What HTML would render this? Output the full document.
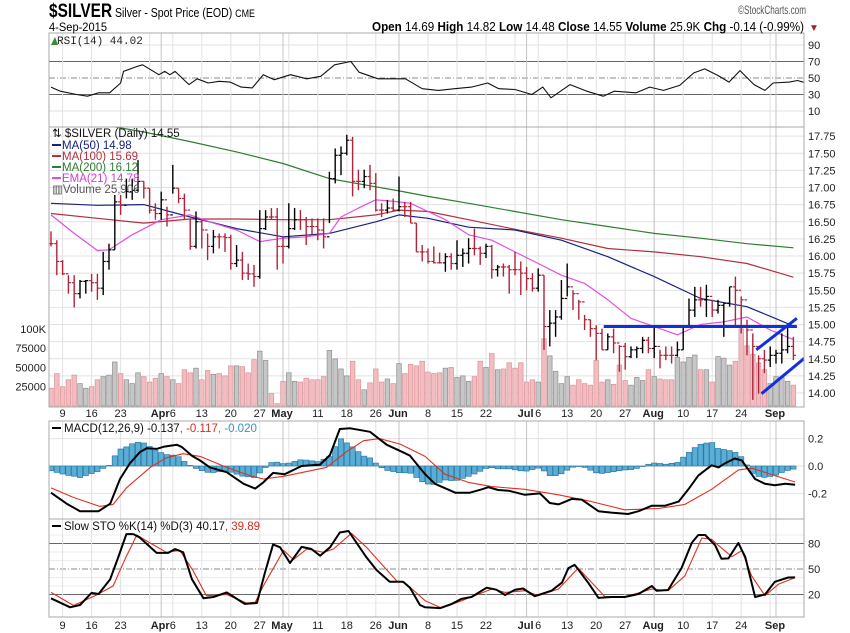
<!DOCTYPE html>
<html><head><meta charset="utf-8"><title>$SILVER chart</title>
<style>
html,body{margin:0;padding:0;background:#fff;}
svg{display:block;font-family:"Liberation Sans",sans-serif;}
.ax{font-size:11px;fill:#222;}
.nar{font-family:"Liberation Sans Narrow","Liberation Sans",sans-serif;}
</style></head>
<body>
<svg id="chart" width="850" height="633" viewBox="0 0 850 633" xmlns="http://www.w3.org/2000/svg">
<defs>
<clipPath id="cMain"><rect x="49" y="127" width="755" height="280"/></clipPath>
<clipPath id="cRsi"><rect x="49" y="33" width="755" height="94"/></clipPath>
<clipPath id="cMacd"><rect x="49" y="421" width="755" height="98"/></clipPath>
<clipPath id="cSto"><rect x="49" y="519" width="755" height="98"/></clipPath>
</defs>
<rect x="0" y="0" width="850" height="633" fill="#fff"/>
<g id="grid"></g>
<g id="marks"></g>
<g>
<text x="49" y="17" textLength="206" lengthAdjust="spacingAndGlyphs" class="nar" font-size="13" fill="#000"><tspan font-size="19" font-weight="bold">$SILVER</tspan> Silver - Spot Price (EOD) <tspan font-size="11">CME</tspan></text>
<text x="49" y="31" textLength="58" lengthAdjust="spacingAndGlyphs" class="nar" font-size="12" fill="#000">4-Sep-2015</text>
<text x="806" y="14" text-anchor="end" textLength="68" lengthAdjust="spacingAndGlyphs" class="nar" font-size="12" fill="#555">©StockCharts.com</text>
<text x="372" y="31" textLength="432" lengthAdjust="spacingAndGlyphs" class="nar" font-size="12.5" fill="#000"><tspan font-weight="bold">Open</tspan> 14.69 <tspan font-weight="bold">High</tspan> 14.82 <tspan font-weight="bold">Low</tspan> 14.48 <tspan font-weight="bold">Close</tspan> 14.55 <tspan font-weight="bold">Volume</tspan> 25.9K <tspan font-weight="bold">Chg</tspan> -0.14 (-0.99%)</text>
<text x="809" y="31" font-size="10" fill="#a02030">▼</text>
</g>
<g font-size="11.5">
<path d="M51 45 L55 37 L58 45 Z" fill="#3a8a3a"/>
<text x="57" y="44" fill="#222" font-family="Liberation Mono,monospace" font-size="11">RSI(14) 44.02</text>
<text x="52" y="137" fill="#111">⇅ $SILVER (Daily) 14.55</text>
<line x1="52" y1="145" x2="61" y2="145" stroke="#1a237e" stroke-width="2"/>
<text x="62" y="149" fill="#1a237e">MA(50) 14.98</text>
<line x1="52" y1="156" x2="61" y2="156" stroke="#b03040" stroke-width="2"/>
<text x="62" y="160" fill="#b03040">MA(100) 15.69</text>
<line x1="52" y1="167" x2="61" y2="167" stroke="#2e7d32" stroke-width="2"/>
<text x="62" y="171" fill="#2e7d32">MA(200) 16.12</text>
<line x1="52" y1="178" x2="61" y2="178" stroke="#e050e0" stroke-width="2"/>
<text x="62" y="182" fill="#d040d0">EMA(21) 14.78</text>
<text x="52" y="193" fill="#555">▥Volume 25,906</text>
<line x1="52" y1="428" x2="61" y2="428" stroke="#000" stroke-width="2"/>
<text x="64" y="432" fill="#111">MACD(12,26,9) -0.137<tspan fill="#d03020">, -0.117</tspan><tspan fill="#3a90c0">, -0.020</tspan></text>
<line x1="52" y1="526" x2="61" y2="526" stroke="#000" stroke-width="2"/>
<text x="64" y="530" fill="#111">Slow STO %K(14) %D(3) 40.17<tspan fill="#d03020">, 39.89</tspan></text>
</g>
</svg>
<script>
// ---- price data (bar index 0 = 5-Mar-2015) ----
const highs = [16.36,16.23,15.94,15.72,15.72,15.65,15.65,15.74,15.74,16.06,
16.18,16.89,16.89,17.13,17.13,17.40,17.09,16.99,16.77,16.94,
16.72,17.33,16.99,16.91,16.55,16.65,16.53,16.33,16.38,16.33,
16.33,16.31,16.16,16.06,15.89,15.87,16.67,16.67,16.70,16.70,
16.28,16.77,16.70,16.67,16.57,16.55,16.55,16.55,17.23,17.57,
17.60,17.77,17.74,17.26,17.26,17.33,17.21,16.77,16.82,16.84,
17.16,16.79,16.79,16.48,16.16,16.11,16.14,16.05,16.04,16.04,
16.23,16.11,16.26,16.40,16.14,16.18,16.16,15.87,15.89,15.87,
16.06,15.92,15.84,15.75,15.82,15.72,15.21,15.21,15.65,15.89,
15.50,15.36,15.14,15.07,14.99,14.94,14.87,14.94,14.70,14.73,
14.68,14.68,14.82,14.82,14.97,14.63,14.68,14.68,14.75,14.99,
15.38,15.55,15.55,15.58,15.36,15.36,15.31,15.55,15.70,15.41,
15.07,14.87,14.55,14.63,14.68,14.63,14.87,14.97,14.82];
const lows = [16.14,15.72,15.72,15.45,15.25,15.38,15.45,15.48,15.36,15.43,
15.80,16.09,16.60,16.84,16.82,16.94,16.84,16.62,16.53,16.53,
16.43,16.91,16.77,16.53,16.09,16.11,16.11,15.94,16.04,16.11,
16.06,15.80,15.84,15.65,15.65,15.55,15.67,16.38,16.53,15.80,
15.89,16.11,16.38,16.38,16.16,16.31,16.23,16.11,16.48,17.06,
17.18,17.47,16.87,16.96,16.99,16.96,16.65,16.57,16.62,16.65,
16.65,16.57,16.48,16.06,15.92,15.89,15.89,15.89,15.77,15.80,
15.80,15.84,15.89,16.01,15.87,15.97,15.67,15.70,15.70,15.45,
15.72,15.43,15.50,15.48,15.48,14.63,14.68,14.82,15.07,15.41,
15.21,15.07,14.92,14.82,14.48,14.63,14.63,14.58,14.31,14.34,
14.51,14.51,14.58,14.58,14.51,14.36,14.48,14.43,14.53,14.63,
14.97,15.11,15.26,15.11,15.11,15.16,14.82,15.26,14.97,14.87,
14.55,13.90,13.99,14.29,14.38,14.43,14.43,14.58,14.48];
const closes = [16.18,15.92,15.74,15.61,15.45,15.63,15.64,15.61,15.53,15.92,
16.09,16.79,16.74,16.94,16.96,17.09,16.99,16.67,16.62,16.82,
16.60,16.99,16.84,16.67,16.14,16.50,16.38,16.14,16.28,16.28,
16.27,15.89,15.94,15.75,15.74,15.70,16.40,16.57,16.57,16.14,
16.14,16.40,16.53,16.53,16.43,16.43,16.38,16.28,17.13,17.47,
17.50,17.69,17.09,17.09,17.16,17.06,16.67,16.67,16.70,16.67,
16.72,16.72,16.48,16.06,16.06,15.92,15.90,15.90,15.99,15.89,
16.01,16.04,16.11,16.11,16.04,16.14,15.80,15.84,15.84,15.80,
15.80,15.75,15.67,15.53,15.72,14.97,15.02,15.11,15.38,15.55,
15.45,15.33,15.07,14.94,14.87,14.63,14.82,14.73,14.68,14.53,
14.63,14.65,14.77,14.65,14.68,14.55,14.55,14.55,14.63,14.97,
15.21,15.36,15.36,15.41,15.21,15.28,15.31,15.55,15.50,15.36,
14.92,14.68,14.50,14.48,14.55,14.58,14.63,14.68,14.55];
const volumesK = [23,42,25,34,40,29,23,25,34,38,
40,57,42,34,29,43,38,31,36,42,
38,34,29,47,43,49,34,46,41,42,
39,52,52,51,43,60,71,59,16,3,
32,43,32,31,36,34,34,38,72,61,
48,39,58,34,21,30,48,31,35,29,
55,42,54,52,58,44,42,43,49,50,
37,39,32,38,58,50,68,47,48,56,
49,56,31,34,31,87,65,45,29,38,
27,34,29,27,59,31,34,28,53,33,
27,37,33,47,38,35,34,34,63,57,
63,66,47,47,31,64,62,53,58,100,
78,67,56,47,29,38,37,32,27];
// ---- moving averages (sampled at bar indices) ----
const maIdx = [0,8,16,24,32,40,48,56,60,65,72,80,88,96,104,112,120,128];
const ma50 = [16.77,16.74,16.75,16.57,16.40,16.28,16.33,16.50,16.60,16.55,16.42,16.38,16.23,15.99,15.70,15.38,15.26,14.98];
const ma100 = [16.62,16.55,16.48,16.54,16.54,16.53,16.53,16.60,16.67,16.65,16.53,16.39,16.26,16.11,16.06,15.99,15.89,15.69];
const ma200 = [18.0,17.93,17.81,17.67,17.52,17.35,17.13,17.01,16.95,16.87,16.77,16.65,16.53,16.43,16.33,16.26,16.18,16.12];
const emaIdx = [0,4,8,10,14,19,24,28,32,36,40,44,48,50,53,56,60,62,65,68,72,76,80,84,88,92,96,100,104,108,112,116,120,124,128];
const ema21 = [16.60,16.33,16.08,16.09,16.31,16.53,16.60,16.48,16.38,16.21,16.26,16.28,16.33,16.57,16.70,16.82,16.79,16.77,16.65,16.53,16.31,16.23,16.06,15.89,15.72,15.60,15.36,15.09,14.97,14.85,15.00,15.04,15.11,14.92,14.78];
// ---- RSI ----
const rsiIdx = [0,1.6,4.4,6.3,8.2,10.1,12,12.5,14.8,15.8,18.6,19.6,20.5,21.4,23.8,25.2,27.1,29,30.9,32.8,34.7,36.6,38.5,41.3,44.1,46.5,48.9,51.7,53.1,56.4,61.1,64,66.8,69.6,72.5,75.3,77.2,80,82.9,84.8,86.2,89.5,92.4,95.2,97.1,100.9,103.2,105.6,108.4,110.8,112.7,115,116.9,118.8,121.2,123.1,124.5,127.3,128.7,130.2];
const rsiVal = [39,34,30,28,32,32,44,58,64,66,54,58,54,58,42,49,44,46,45,39,38,54,48,54,49,52,66,70,57,49,49,37,35,37,39,44,37,36,30,39,26,42,34,28,34,32,39,35,41,56,61,53,45,59,42,35,44,45,47,44.02];
// ---- MACD ----
const macdIdx = [0,2.7,5,8.2,10.2,11.9,13.6,15.3,16.5,18.2,19.4,21.7,22.5,24.3,25.7,27.4,30.3,33.2,35.2,36.6,38.3,40.3,43.2,46.4,48.1,49.8,51.6,55,57.9,60.7,61.9,64.5,66.2,69.7,72.2,74.3,75.4,77.1,78.9,81.7,84.3,86,87.5,89.8,91.5,94.4,96.6,99.5,101.3,103.6,105.9,108.2,109.9,111.6,113.9,115.1,116.2,117.9,119.1,121.4,123.1,124.8,126.6,128.3];
const macdVal = [-0.195,-0.275,-0.33,-0.33,-0.275,-0.095,0.02,0.10,0.13,0.125,0.14,0.155,0.14,0.075,0.04,-0.01,-0.045,-0.13,-0.165,-0.12,-0.05,-0.06,0,0.01,0.08,0.27,0.275,0.25,0.155,0.10,0.075,-0.06,-0.13,-0.195,-0.195,-0.17,-0.155,-0.175,-0.18,-0.21,-0.2,-0.27,-0.28,-0.24,-0.245,-0.33,-0.34,-0.35,-0.33,-0.29,-0.29,-0.26,-0.17,-0.07,0.005,-0.01,0.02,0.055,0.04,-0.095,-0.13,-0.14,-0.13,-0.137];
const sigIdx = [0,3.9,8.4,10.7,13,17.1,19.9,22.8,25.7,30.3,34.3,36.6,40.1,42.9,47.5,51,53.9,56.7,60.2,64.5,67.9,72,76,81.7,87.5,93.2,98.9,104.7,109.3,113.9,118.5,120.8,124.8,128.3];
const sigVal = [-0.16,-0.23,-0.295,-0.28,-0.16,-0.01,0.06,0.09,0.07,-0.01,-0.07,-0.095,-0.075,-0.05,-0.01,0.105,0.185,0.20,0.16,0.07,-0.06,-0.12,-0.15,-0.17,-0.21,-0.26,-0.32,-0.31,-0.28,-0.17,-0.03,-0.015,-0.07,-0.117];
// ---- Slow Stochastic ----
const kIdx = [0,3.3,5,7,8.2,10.2,11.6,13,14.2,15.3,18.2,20.2,21.4,22.8,24.3,26.3,28,30.3,33.4,35.5,36.9,38.3,39.5,41.2,43.2,44.9,46.4,48.1,49.8,51.3,53,54.4,56.1,58.4,60.7,61.9,63.6,64.5,67.1,69.1,70.8,72.5,75.1,76.8,78.3,80,81.4,83.4,86.3,88.1,89.2,90.3,92.6,94.4,96.6,98.9,101.3,103.6,104.4,106.4,108.7,110.5,111.6,112.8,114.5,115.6,116.8,118.5,119.7,121.4,123.1,124.8,127.1,128.3];
const kVal = [15.5,5,7.6,22,20.6,38,64,91,91,87,69,69,73.5,69.6,38,15.5,17,22.5,9,10,46,79,75.5,57,76,73.5,65.7,75.5,93,94.7,77.5,63.7,49,35,35,28,7.6,5,4,9,15,17,28,25.7,19.4,25.7,27,18,24.5,34,51,55,34,16,17,17,20.6,30,24.5,25.3,51,81,90,90,78,62,62.5,80.6,64,17,20,35,40,40.17];
const dIdx = [0,3.9,7.9,10.7,12.8,14.8,16.5,19.9,22.2,24.5,26.8,30.3,33.7,35.2,36.6,40.1,41.8,44.1,47,48.7,51.8,54.4,56.7,59.6,61,64.5,67.4,70.8,76,78.3,81.7,84,87.5,90.9,95.5,98.9,103.6,106.4,109.3,112.2,113.9,115.1,117.4,119.1,120.8,123.1,125.4,128.3];
const dVal = [22.5,7,19.5,30,62,90,83,69.6,72,48,18.6,20,10,10.8,30,72,61,73.5,69.6,73.5,92,75.5,58,36,34,12.7,4,12.7,26.5,22.5,24.5,18.6,26.5,51,17.5,17,26.5,24.5,42,86.5,85,77.5,64.5,71.6,42,18.6,32,39.89];
// ---- axes ----
const weekIdx = [2,7,12,17,21,26,31,36,41,46,51,56,60,65,70,75,80,84,89,94,99,104,109,114,119,124];
const monthIdx = [19,40,60,82,104,125];
const dateLabels = [[2,'9',0],[7,'16',0],[12,'23',0],[19,'Apr',1],[21,'6',0],[26,'13',0],[31,'20',0],[36,'27',0],[40,'May',1],[46,'11',0],[51,'18',0],[56,'26',0],[60,'Jun',1],[65,'8',0],[70,'15',0],[75,'22',0],[82,'Jul',1],[84,'6',0],[89,'13',0],[94,'20',0],[99,'27',0],[104,'Aug',1],[109,'10',0],[114,'17',0],[119,'24',0],[125,'Sep',1]];
const priceTicks = [14.00,14.25,14.50,14.75,15.00,15.25,15.50,15.75,16.00,16.25,16.50,16.75,17.00,17.25,17.50,17.75];
const volTicks = [[100,'100K'],[75,'75000'],[50,'50000'],[25,'25000']];
const rsiTicks = [90,70,50,30,10];
const macdTicks = [[0.2,'0.2'],[0,'0.0'],[-0.2,'-0.2']];
const stoTicks = [80,50,20];
// trendline annotations [i1,p1,i2,p2]
const trendLines = [[95.3,14.97,128.6,14.97],[121.6,14.63,128.6,15.09],[122.5,13.99,130.5,14.55]];

const NS = 'http://www.w3.org/2000/svg';
const xI = i => 51 + i * 5.8;
const yP = p => 393 - (p - 14) * 68.5;
const yV = v => 406 - v * 0.772;
const yR = r => 78 - (r - 50) * 0.825;
const yM = m => 466 - m * 137;
const yS = s => 569 - (s - 50) * 0.85;
function interp(ix, vs, i) {
  if (i <= ix[0]) return vs[0];
  for (let k = 1; k < ix.length; k++) if (i <= ix[k]) { const t = (i - ix[k-1]) / (ix[k] - ix[k-1]); return vs[k-1] + t * (vs[k] - vs[k-1]); }
  return vs[vs.length - 1];
}
function el(tag, attrs, parent) {
  const e = document.createElementNS(NS, tag);
  for (const k in attrs) e.setAttribute(k, attrs[k]);
  parent.appendChild(e);
  return e;
}
const grid = document.getElementById('grid');
const marks = document.getElementById('marks');
const panels = [[33,94],[127,280],[421,98],[519,98]];

priceTicks.forEach(p => {
  const l = el('line', {x1:49, x2:804, y1:yP(p), y2:yP(p), stroke:'#e2e2e2'}, grid);
  
  
  const t = el('text', {x:808, y:yP(p)+4, class:'ax'}, grid);
  
  
  t.textContent = p.toFixed(2);
});
volTicks.forEach(v => {
  const t = el('text', {x:46, y:yV(v[0])+4, class:'ax', 'text-anchor':'end'}, grid);
  
  
  t.textContent = v[1];
});
rsiTicks.forEach(r => {
  const main = (r === 70 || r === 30);
  const l = el('line', {x1:49, x2:804, y1:yR(r), y2:yR(r), stroke: main ? '#666' : (r===50 ? '#888' : '#e2e2e2'), 'stroke-dasharray': r===50 ? '6,2,1,2' : 'none'}, grid);
  
  
  const t = el('text', {x:808, y:yR(r)+4, class:'ax'}, grid);
  
  
  t.textContent = r;
});
macdTicks.forEach(m => {
  const l = el('line', {x1:49, x2:804, y1:yM(m[0]), y2:yM(m[0]), stroke:'#e2e2e2'}, grid);
  
  
  const t = el('text', {x:808, y:yM(m[0])+4, class:'ax'}, grid);
  
  
  t.textContent = m[1];
});
[30,40,60,70,90,10].forEach(s => {
  const l = el('line', {x1:49, x2:804, y1:yS(s), y2:yS(s), stroke:'#ececec'}, grid);
  
  
});
stoTicks.forEach(s => {
  const l = el('line', {x1:49, x2:804, y1:yS(s), y2:yS(s), stroke: s===50 ? '#888' : '#666', 'stroke-dasharray': s===50 ? '6,2,1,2' : 'none'}, grid);
  
  
  const t = el('text', {x:808, y:yS(s)+4, class:'ax'}, grid);
  
  
  t.textContent = s;
});
panels.forEach(pn => {
  weekIdx.forEach(i => {
    const l = el('line', {x1:xI(i), x2:xI(i), y1:pn[0], y2:pn[0]+pn[1], stroke:'#e2e2e2'}, grid);
    
    
  });
  monthIdx.forEach(i => {
    const l = el('line', {x1:xI(i), x2:xI(i), y1:pn[0], y2:pn[0]+pn[1], stroke:'#c4c4c4'}, grid);
    
    
  });
});
[413, 625].forEach(yy => {
  dateLabels.forEach(d => {
    const t = el('text', {x:xI(d[0]) + (d[2] ? -1 : 0), y:yy+4, class:'ax', 'text-anchor':'middle', 'font-weight': d[2] ? 'bold' : 'normal', 'font-size': d[2] ? '12' : '11'}, grid);
    
    
    t.textContent = d[1];
  });
});
const gMain = el('g', {'clip-path':'url(#cMain)'}, marks);


volumesK.forEach((v, i) => {
  const up = i > 0 && closes[i] > closes[i-1];
  const r = el('rect', {x:xI(i)-2.3, y:yV(v), width:4.6, height:406-yV(v), fill: up ? '#c6c6c6' : '#f2bcc0', stroke: up ? '#8e8e8e' : '#d8949a', 'stroke-width':0.7}, gMain);
  
  
});
function line(ix, vs, yf, color, w, parent, name) {
  const pts = ix.map((i, k) => xI(i).toFixed(1) + ',' + yf(vs[k]).toFixed(1)).join(' ');
  const pl = el('polyline', {points:pts, fill:'none', stroke:color, 'stroke-width':w, 'stroke-linejoin':'round'}, parent);
  
  
}
line(maIdx, ma200, yP, '#2e7d32', 1.2, gMain, 'ma200-line');
line(maIdx, ma100, yP, '#b03040', 1.2, gMain, 'ma100-line');
line(maIdx, ma50, yP, '#1a237e', 1.2, gMain, 'ma50-line');
line(emaIdx, ema21, yP, '#e050e0', 1.2, gMain, 'ema21-line');
closes.forEach((c, i) => {
  const up = i > 0 && c > closes[i-1];
  const col = up ? '#000' : '#b0243a';
  const x = xI(i);
  const o = i > 0 ? closes[i-1] : c;
  const v = el('line', {x1:x, x2:x, y1:yP(highs[i]), y2:yP(lows[i]), stroke:col, 'stroke-width':1.4}, gMain);
  
  
  const tl = el('line', {x1:x-2.5, x2:x, y1:yP(o), y2:yP(o), stroke:col, 'stroke-width':1.2}, gMain);
  
  
  const tr = el('line', {x1:x, x2:x+2.5, y1:yP(c), y2:yP(c), stroke:col, 'stroke-width':1.2}, gMain);
  
  
});
trendLines.forEach(t => {
  const l = el('line', {x1:xI(t[0]), y1:yP(t[1]), x2:xI(t[2]), y2:yP(t[3]), stroke:'#1030e0', 'stroke-width':3}, gMain);
  
  
});
const gR = el('g', {'clip-path':'url(#cRsi)'}, marks);


line(rsiIdx, rsiVal, yR, '#111', 1.1, gR, 'rsi-line');
const gM = el('g', {'clip-path':'url(#cMacd)'}, marks);


for (let i = 0; i < closes.length; i++) {
  const h = interp(macdIdx, macdVal, i) - interp(sigIdx, sigVal, i);
  const y0 = yM(0), y1 = yM(h);
  const r = el('rect', {x:xI(i)-2.6, y:Math.min(y0,y1), width:5.2, height:Math.max(0.5,Math.abs(y1-y0)), fill:'#5aaed6', stroke:'#2b78a4', 'stroke-width':0.7}, gM);
  
  
}
line(sigIdx, sigVal, yM, '#e03020', 1.1, gM, 'macd-signal-line');
line(macdIdx, macdVal, yM, '#000', 2, gM, 'macd-line');
const gS = el('g', {'clip-path':'url(#cSto)'}, marks);


line(dIdx, dVal, yS, '#e03020', 1.1, gS, 'sto-d-line');
line(kIdx, kVal, yS, '#000', 2, gS, 'sto-k-line');
panels.forEach(pn => {
  const r = el('rect', {x:49, y:pn[0], width:755, height:pn[1], fill:'none', stroke:'#a8a8a8'}, marks);
  
  
});
</script>
</body></html>
